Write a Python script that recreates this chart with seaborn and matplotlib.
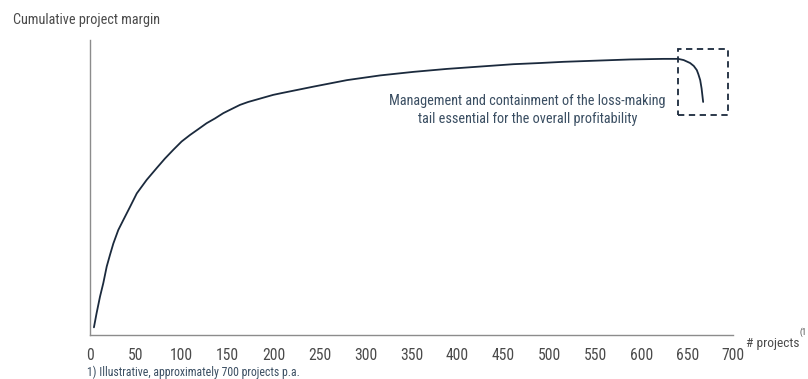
import matplotlib
matplotlib.use("Agg")
import matplotlib.pyplot as plt
from matplotlib import font_manager
from matplotlib.patches import Rectangle
import seaborn as sns
import pandas as pd

# Cumulative margin curve, projects sorted from most to least profitable
projects = [4.6, 7.5, 11.2, 14.8, 18.5, 22.1, 25.7, 31.1, 36.6, 43.8, 51.2,
            62, 72.9, 81.8, 91, 100, 109.1, 118.2, 127.2, 136.2, 145.3, 154.3,
            163.4, 172.4, 181.5, 190.5, 199.6, 208.7, 243.5, 279.8, 316, 352.2,
            388.5, 424.7, 460.9, 490, 515, 551.2, 587.5, 623.8, 640.1, 646,
            653, 657, 660.3, 662, 664, 665.5, 667.2]
margin = [0.13, 0.37, 0.65, 0.88, 1.16, 1.36, 1.55, 1.78, 1.95, 2.17, 2.40,
          2.63, 2.83, 2.99, 3.14, 3.28, 3.39, 3.49, 3.59, 3.67, 3.76, 3.83,
          3.90, 3.95, 3.99, 4.03, 4.07, 4.10, 4.21, 4.32, 4.40, 4.46,
          4.51, 4.55, 4.59, 4.61, 4.63, 4.65, 4.67, 4.68, 4.68, 4.66,
          4.61, 4.56, 4.49, 4.42, 4.32, 4.18, 3.95]

x_ticks = list(range(0, 701, 50))
y_ticks = [0, 1, 2, 3, 4, 5]

# loss-making tail highlight (x0, y0, x1, y1)
tail_box = (640, 3.73, 694, 4.84)

tail_note = ("Management and containment of the loss-making\n"
             "tail essential for the overall profitability")

sns.set_theme(style="white")

# prefer a narrow sans face when one is installed
fonts = font_manager.fontManager.ttflist
narrow = None
for wanted in ("Liberation Sans Narrow", "DejaVu Sans Condensed",
               "Open Sans Condensed", "Roboto Condensed"):
    hits = [f for f in fonts if f.name == wanted and f.style == "normal"
            and f.weight in (400, "normal", "regular")]
    if hits:
        narrow = hits[0]
        break
if narrow is None:
    hits = [f for f in fonts if f.name == "DejaVu Sans" and f.style == "normal"
            and f.stretch in ("condensed", "semi-condensed")
            and f.weight in (400, "normal", "regular")]
    if hits:
        narrow = hits[0]

if narrow is not None:
    plt.rcParams["font.family"] = [narrow.name, "DejaVu Sans"]
    plt.rcParams["font.stretch"] = narrow.stretch
    width_k = 0.78
else:
    plt.rcParams["font.family"] = ["DejaVu Sans"]
    width_k = 1.0


def fs(size):
    return size / width_k


line_col = "#1b2a3d"
text_col = "#3a4e62"
axis_col = "#8c8c8c"
label_col = "#4a4a4a"

fig = plt.figure(figsize=(8.08, 3.79), dpi=100)
ax = fig.add_axes([89.7 / 808, 44 / 379, (733.3 - 89.7) / 808, 295 / 379])

df = pd.DataFrame({"projects": projects, "margin": margin})
sns.lineplot(data=df, x="projects", y="margin", ax=ax, color=line_col,
             linewidth=1.3, sort=False)
ax.lines[0].set_solid_joinstyle("round")
ax.lines[0].set_solid_capstyle("round")

ax.set_xlim(0, 700)
ax.set_ylim(0, 5)
ax.set_xticks(x_ticks)
ax.set_xticklabels([str(v) for v in x_ticks])
ax.set_yticks(y_ticks)
ax.set_yticklabels([])
ax.set_xlabel("")
ax.set_ylabel("")

for side in ("top", "right"):
    ax.spines[side].set_visible(False)
for side in ("left", "bottom"):
    ax.spines[side].set_color(axis_col)
    ax.spines[side].set_linewidth(1.0)

ax.tick_params(axis="x", direction="in", length=4, width=1.0, color=axis_col,
               labelsize=fs(8.8), labelcolor=label_col, pad=9)
ax.tick_params(axis="y", direction="out", length=4, width=1.0, color=axis_col)

x0, y0, x1, y1 = tail_box
ax.add_patch(Rectangle((x0, y0), x1 - x0, y1 - y0, fill=False,
                       edgecolor=line_col, linewidth=1.3,
                       linestyle=(0, (3.5, 2.5)), clip_on=False))

ax.text(476, 3.81, tail_note, ha="center", va="center", fontsize=fs(8.0),
        color=text_col, linespacing=1.4)

fig.text(13 / 808, 1 - 20 / 379, "Cumulative project margin", ha="left",
         va="center", fontsize=fs(8.0), color=label_col)
fig.text(746 / 808, 1 - 343 / 379, "# projects", ha="left", va="center",
         fontsize=fs(7.5), color=label_col)
fig.text(799 / 808, 1 - 332 / 379, "(1", ha="left", va="center",
         fontsize=fs(5.0), color=label_col)
fig.text(87 / 808, 1 - 372.7 / 379, "1) Illustrative, approximately 700 projects p.a.",
         ha="left", va="center", fontsize=fs(6.6), color=text_col)

fig.savefig("out.png", dpi=100)
